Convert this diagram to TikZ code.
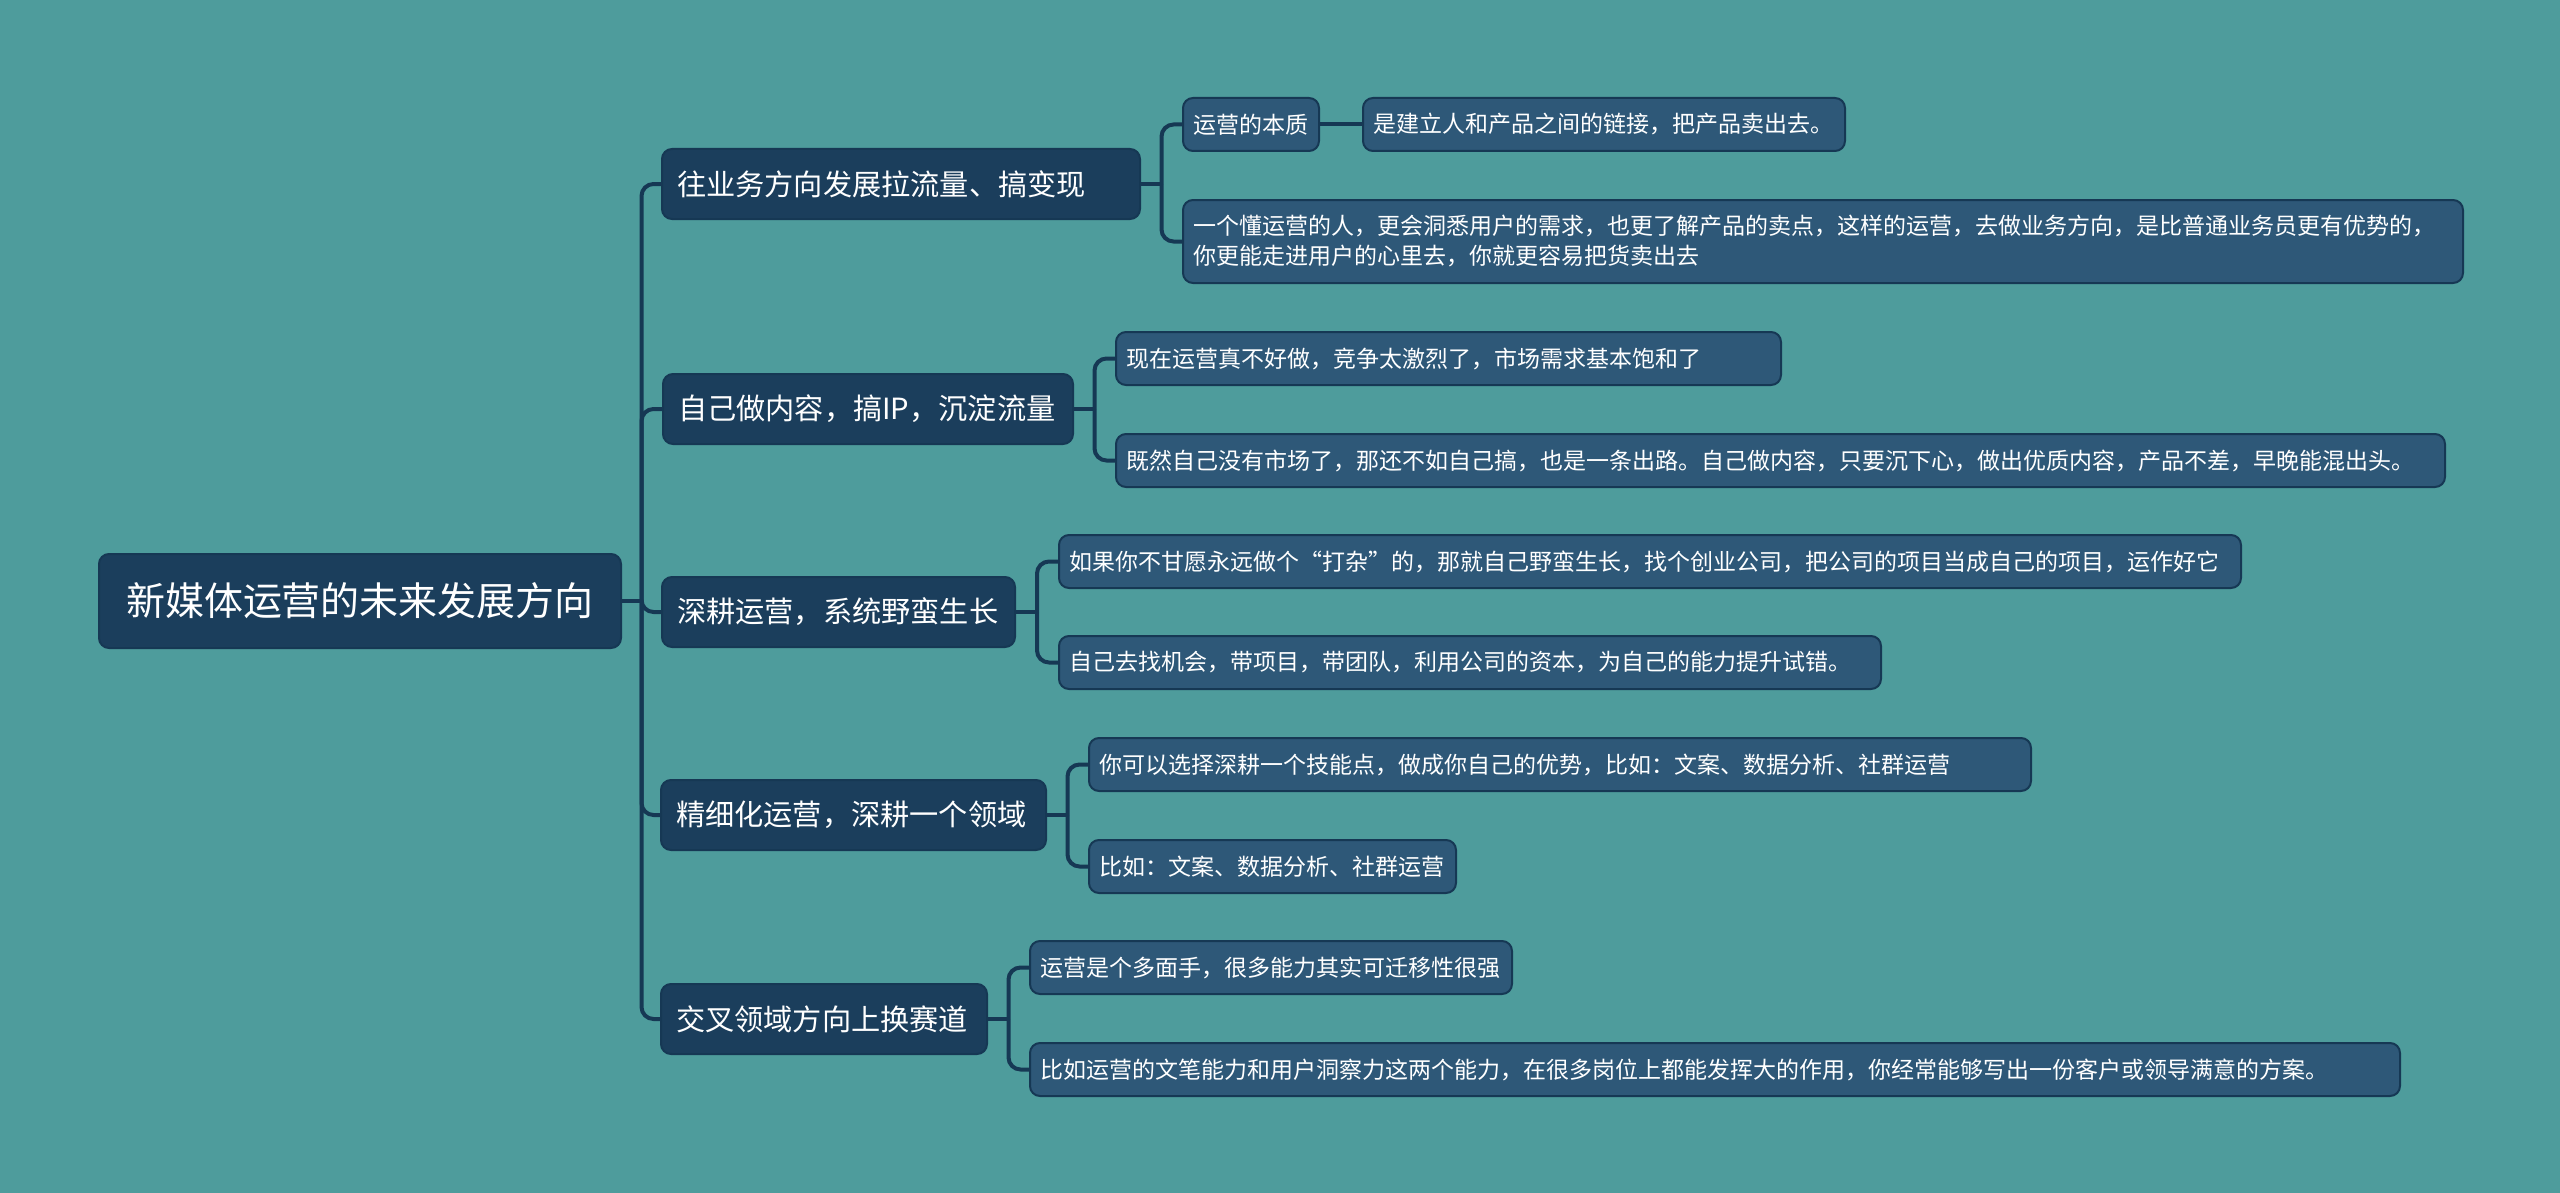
\documentclass[tikz,border=0pt]{standalone}
\usepackage{fontspec}
\usetikzlibrary{calc}
\newfontfamily\cjk{Noto Sans CJK SC}
\definecolor{bgc}{RGB}{78,156,156}
\definecolor{nodeA}{RGB}{27,62,92}
\definecolor{nodeB}{RGB}{46,88,120}
\definecolor{lineC}{RGB}{22,56,84}
\tikzset{
  base/.style={rounded corners=5pt, text=white, align=left, inner ysep=0pt, anchor=north west},
  rootbox/.style={base, fill=nodeA, draw=lineC, line width=1pt, inner xsep=12pt, align=center,
     font=\cjk\fontsize{19.5pt}{23pt}\selectfont},
  lonebox/.style={base, fill=nodeA, draw=lineC, line width=1pt, inner xsep=7.5pt,
     font=\cjk\fontsize{14.6pt}{18pt}\selectfont, minimum height=35pt},
  ltwobox/.style={base, fill=nodeB, draw=lineC, line width=1pt, inner xsep=5pt,
     font=\cjk\fontsize{11.5pt}{15pt}\selectfont, minimum height=26.5pt},
  conn/.style={draw=lineC, line width=2pt, rounded corners=6pt},
}
\begin{document}
\begin{tikzpicture}[x=0.5pt,y=-0.5pt]
\fill[bgc] (0,0) rectangle (2560,1193);

% root
\node[rootbox, text width=237pt, minimum height=47pt] (root) at (98,553) {新媒体运营的未来发展方向};

% level 1
\node[lonebox, text width=224pt] (n1) at (661,148) {往业务方向发展拉流量、搞变现};
\node[lonebox, text width=190pt] (n2) at (662,373) {自己做内容，搞IP，沉淀流量};
\node[lonebox, text width=161.5pt] (n3) at (661,576) {深耕运营，系统野蛮生长};
\node[lonebox, text width=177.5pt] (n4) at (660,779) {精细化运营，深耕一个领域};
\node[lonebox, text width=148pt] (n5) at (660,983) {交叉领域方向上换赛道};

% level 2
\node[ltwobox, text width=58pt] (a1) at (1182,97) {运营的本质};
\node[ltwobox, text width=231pt] (a2) at (1362,97) {是建立人和产品之间的链接，把产品卖出去。};
\node[ltwobox, text width=630pt, minimum height=41.5pt] (a3) at (1182,199) {一个懂运营的人，更会洞悉用户的需求，也更了解产品的卖点，这样的运营，去做业务方向，是比普通业务员更有优势的，\\你更能走进用户的心里去，你就更容易把货卖出去};

\node[ltwobox, text width=322.5pt] (b1) at (1115,331) {现在运营真不好做，竞争太激烈了，市场需求基本饱和了};
\node[ltwobox, text width=654.5pt] (b2) at (1115,433) {既然自己没有市场了，那还不如自己搞，也是一条出路。自己做内容，只要沉下心，做出优质内容，产品不差，早晚能混出头。};

\node[ltwobox, text width=581pt] (c1) at (1058,534) {如果你不甘愿永远做个“打杂”的，那就自己野蛮生长，找个创业公司，把公司的项目当成自己的项目，运作好它};
\node[ltwobox, text width=401pt] (c2) at (1058,635) {自己去找机会，带项目，带团队，利用公司的资本，为自己的能力提升试错。};

\node[ltwobox, text width=461pt] (d1) at (1088,737) {你可以选择深耕一个技能点，做成你自己的优势，比如：文案、数据分析、社群运营};
\node[ltwobox, text width=173.5pt] (d2) at (1088,839) {比如：文案、数据分析、社群运营};

\node[ltwobox, text width=231pt] (e1) at (1029,940) {运营是个多面手，很多能力其实可迁移性很强};
\node[ltwobox, text width=675pt] (e2) at (1029,1042) {比如运营的文笔能力和用户洞察力这两个能力，在很多岗位上都能发挥大的作用，你经常能够写出一份客户或领导满意的方案。};

% connectors root -> level 1
\coordinate (tr) at ($(root.east)!0.5!(n1.west |- root.east)$);
\draw[conn] (root.east) -- (tr);
\foreach \n in {n1,n2,n3,n4,n5} {
  \draw[conn] (tr) |- (\n.west);
}

% level 1 -> level 2
\coordinate (j1) at ($(n1.east)!0.5!(a1.west |- n1.east)$);
\draw[conn] (n1.east) -- (j1);
\draw[conn] (j1) |- (a1.west);
\draw[conn] (j1) |- (a3.west);
\draw[conn] (a1.east) -- (a2.west);

\coordinate (j2) at ($(n2.east)!0.5!(b1.west |- n2.east)$);
\draw[conn] (n2.east) -- (j2);
\draw[conn] (j2) |- (b1.west);
\draw[conn] (j2) |- (b2.west);

\coordinate (j3) at ($(n3.east)!0.5!(c1.west |- n3.east)$);
\draw[conn] (n3.east) -- (j3);
\draw[conn] (j3) |- (c1.west);
\draw[conn] (j3) |- (c2.west);

\coordinate (j4) at ($(n4.east)!0.5!(d1.west |- n4.east)$);
\draw[conn] (n4.east) -- (j4);
\draw[conn] (j4) |- (d1.west);
\draw[conn] (j4) |- (d2.west);

\coordinate (j5) at ($(n5.east)!0.5!(e1.west |- n5.east)$);
\draw[conn] (n5.east) -- (j5);
\draw[conn] (j5) |- (e1.west);
\draw[conn] (j5) |- (e2.west);
\end{tikzpicture}
\end{document}
